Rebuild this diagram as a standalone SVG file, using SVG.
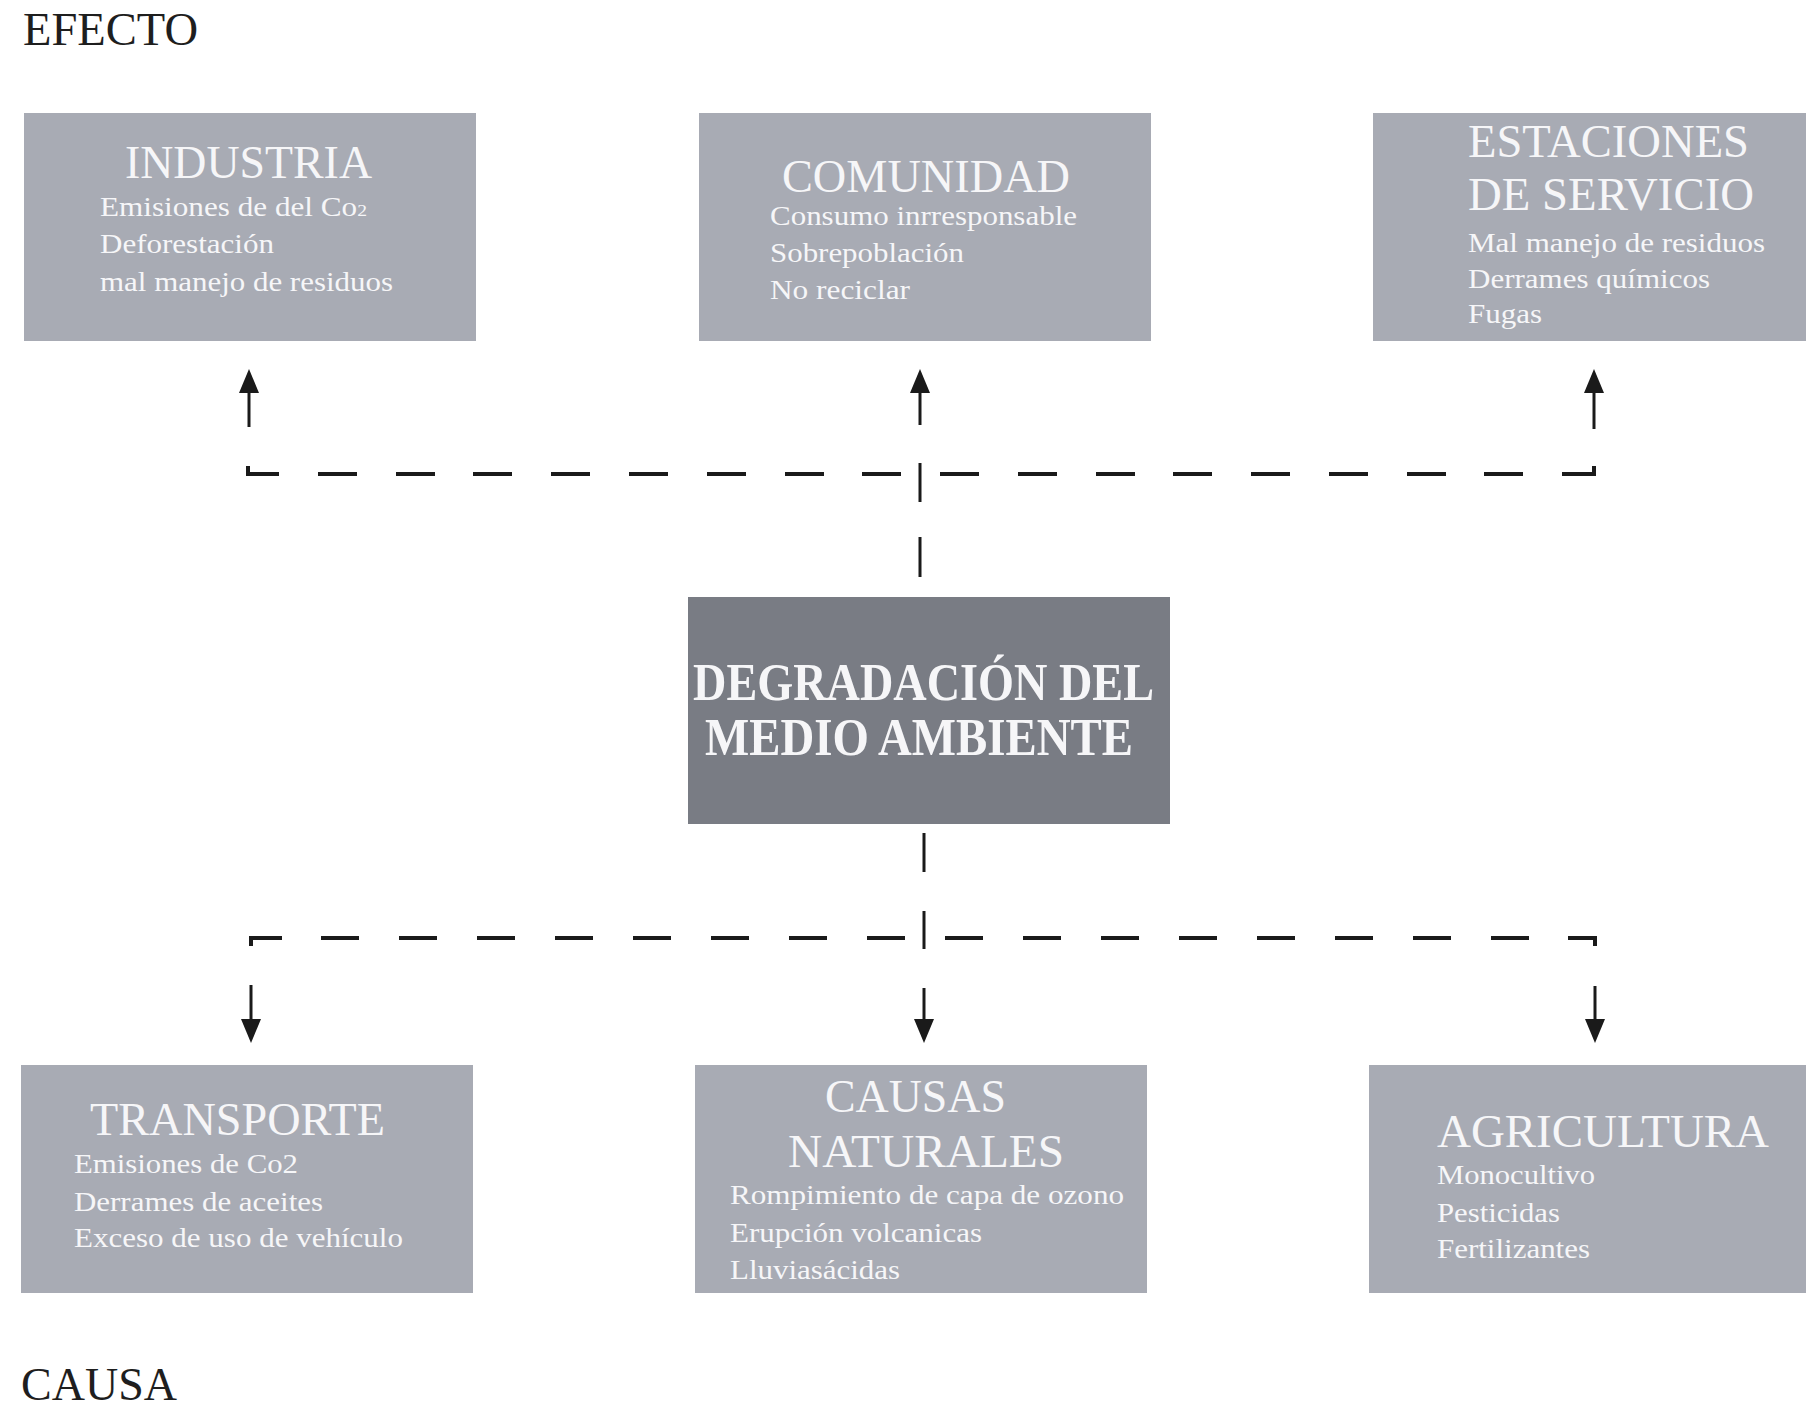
<svg xmlns="http://www.w3.org/2000/svg" width="1806" height="1407" viewBox="0 0 1806 1407">
<defs>
<style>
.box{fill:#a8abb4}
.core{fill:#797c84}
.t{font-family:"Liberation Serif","Times New Roman",serif;fill:#f6f6f8}
.h{font-size:46px}
.b{font-size:27px}
.c{font-weight:bold;font-size:52px}
.lab{font-family:"Liberation Serif","Times New Roman",serif;font-size:46px;fill:#1e1e1e}
.dash{fill:none;stroke:#1a1a1a;stroke-width:4}
.arr{fill:none;stroke:#1a1a1a;stroke-width:3}
</style>
<marker id="ah" viewBox="0 0 24 20" refX="2" refY="10" markerWidth="24" markerHeight="20" markerUnits="userSpaceOnUse" orient="auto">
<path d="M0,0 L24,10 L0,20 z" fill="#1a1a1a"/>
</marker>
</defs>
<rect width="1806" height="1407" fill="#ffffff"/>

<!-- section labels -->
<text class="lab" x="23" y="45" textLength="175" lengthAdjust="spacingAndGlyphs">EFECTO</text>
<text class="lab" x="21" y="1400" textLength="156" lengthAdjust="spacingAndGlyphs">CAUSA</text>

<!-- effects row -->
<g id="industria">
<rect class="box" x="24" y="113" width="452" height="228"/>
<text class="t h" x="125" y="178" textLength="247" lengthAdjust="spacingAndGlyphs">INDUSTRIA</text>
<text class="t b" x="100" y="216" textLength="267" lengthAdjust="spacingAndGlyphs">Emisiones de del Co<tspan font-size="17">2</tspan></text>
<text class="t b" x="100" y="253" textLength="174" lengthAdjust="spacingAndGlyphs">Deforestación</text>
<text class="t b" x="100" y="291" textLength="293" lengthAdjust="spacingAndGlyphs">mal manejo de residuos</text>
</g>

<g id="comunidad">
<rect class="box" x="699" y="113" width="452" height="228"/>
<text class="t h" x="782" y="192" textLength="288" lengthAdjust="spacingAndGlyphs">COMUNIDAD</text>
<text class="t b" x="770" y="225" textLength="307" lengthAdjust="spacingAndGlyphs">Consumo inrresponsable</text>
<text class="t b" x="770" y="262" textLength="194" lengthAdjust="spacingAndGlyphs">Sobrepoblación</text>
<text class="t b" x="770" y="299" textLength="140" lengthAdjust="spacingAndGlyphs">No reciclar</text>
</g>

<g id="estaciones">
<rect class="box" x="1373" y="113" width="433" height="228"/>
<text class="t h" x="1468" y="157" textLength="281" lengthAdjust="spacingAndGlyphs">ESTACIONES</text>
<text class="t h" x="1468" y="210" textLength="286" lengthAdjust="spacingAndGlyphs">DE SERVICIO</text>
<text class="t b" x="1468" y="252" textLength="297" lengthAdjust="spacingAndGlyphs">Mal manejo de residuos</text>
<text class="t b" x="1468" y="288" textLength="242" lengthAdjust="spacingAndGlyphs">Derrames químicos</text>
<text class="t b" x="1468" y="323" textLength="74" lengthAdjust="spacingAndGlyphs">Fugas</text>
</g>

<!-- central problem -->
<g id="degradacion">
<rect class="core" x="688" y="597" width="482" height="227"/>
<text class="t c" x="693" y="700" textLength="461" lengthAdjust="spacingAndGlyphs">DEGRADACIÓN DEL</text>
<text class="t c" x="705" y="755" textLength="428" lengthAdjust="spacingAndGlyphs">MEDIO AMBIENTE</text>
</g>

<!-- causes row -->
<g id="transporte">
<rect class="box" x="21" y="1065" width="452" height="228"/>
<text class="t h" x="90" y="1135" textLength="295" lengthAdjust="spacingAndGlyphs">TRANSPORTE</text>
<text class="t b" x="74" y="1173" textLength="224" lengthAdjust="spacingAndGlyphs">Emisiones de Co2</text>
<text class="t b" x="74" y="1211" textLength="249" lengthAdjust="spacingAndGlyphs">Derrames de aceites</text>
<text class="t b" x="74" y="1247" textLength="329" lengthAdjust="spacingAndGlyphs">Exceso de uso de vehículo</text>
</g>

<g id="causas-naturales">
<rect class="box" x="695" y="1065" width="452" height="228"/>
<text class="t h" x="825" y="1112" textLength="181" lengthAdjust="spacingAndGlyphs">CAUSAS</text>
<text class="t h" x="788" y="1167" textLength="276" lengthAdjust="spacingAndGlyphs">NATURALES</text>
<text class="t b" x="730" y="1204" textLength="394" lengthAdjust="spacingAndGlyphs">Rompimiento de capa de ozono</text>
<text class="t b" x="730" y="1242" textLength="252" lengthAdjust="spacingAndGlyphs">Erupción volcanicas</text>
<text class="t b" x="730" y="1279" textLength="170" lengthAdjust="spacingAndGlyphs">Lluviasácidas</text>
</g>

<g id="agricultura">
<rect class="box" x="1369" y="1065" width="437" height="228"/>
<text class="t h" x="1437" y="1147" textLength="332" lengthAdjust="spacingAndGlyphs">AGRICULTURA</text>
<text class="t b" x="1437" y="1184" textLength="158" lengthAdjust="spacingAndGlyphs">Monocultivo</text>
<text class="t b" x="1437" y="1222" textLength="123" lengthAdjust="spacingAndGlyphs">Pesticidas</text>
<text class="t b" x="1437" y="1258" textLength="153" lengthAdjust="spacingAndGlyphs">Fertilizantes</text>
</g>

<!-- connectors -->
<g id="connectors">
<path class="dash" d="M248 466 V474 H279 M318 474 H357 M396 474 H435 M473 474 H512 M551 474 H590 M629 474 H668 M707 474 H746 M785 474 H824 M862 474 H901 M940 474 H979 M1018 474 H1057 M1096 474 H1135 M1173 474 H1212 M1251 474 H1290 M1329 474 H1368 M1407 474 H1446 M1484 474 H1523 M1562 474 H1594 V466"/>
<path class="arr" d="M920 463 V502 M920 537 V577"/>
<path class="arr" d="M249 427 V391" marker-end="url(#ah)"/>
<path class="arr" d="M920 425 V391" marker-end="url(#ah)"/>
<path class="arr" d="M1594 429 V391" marker-end="url(#ah)"/>

<path class="arr" d="M924 833 V872 M924 911 V949"/>
<path class="dash" d="M251 946 V938 H282 M321 938 H359 M399 938 H437 M477 938 H515 M555 938 H593 M633 938 H671 M711 938 H749 M789 938 H827 M867 938 H905 M945 938 H983 M1023 938 H1061 M1101 938 H1139 M1179 938 H1217 M1257 938 H1295 M1335 938 H1373 M1413 938 H1451 M1491 938 H1529 M1568 938 H1595 V946"/>
<path class="arr" d="M251 985 V1021" marker-end="url(#ah)"/>
<path class="arr" d="M924 988 V1021" marker-end="url(#ah)"/>
<path class="arr" d="M1595 986 V1021" marker-end="url(#ah)"/>
</g>
</svg>
